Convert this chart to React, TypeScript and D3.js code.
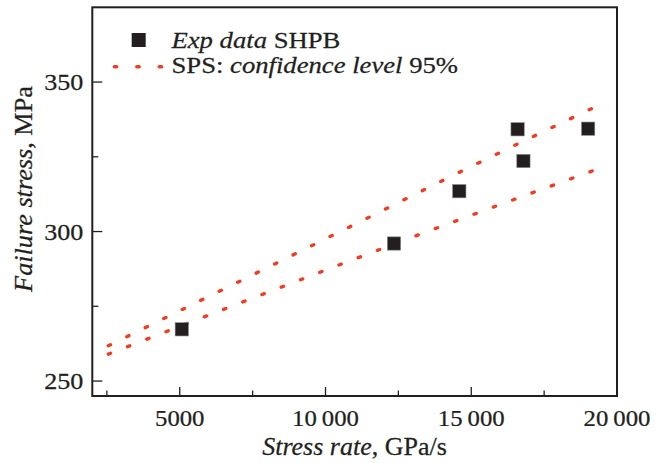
import { useEffect, useRef } from 'react';
import * as d3 from 'd3';

// experimental SHPB points
const stressRate = [5070, 12350, 14590, 16590, 16790, 19010];
const failureStress = [267.3, 296.0, 313.5, 334.2, 323.6, 334.4];

// SPS confidence band (95%), upper and lower limit
const upperRate = [2550, 11250, 14400, 19600];
const upperStress = [261.8, 303.6, 318.9, 343.3];
const lowerRate = [2550, 8000, 13000, 19500];
const lowerStress = [259.0, 279.6, 298.2, 321.5];

const xMajor = [5000, 10000, 15000, 20000];
const xMinor = [2500, 7500, 12500, 17500];
const yMajor = [250, 300, 350];
const yMinor = [275, 325];

const W = 664, H = 463;
const INK = '#231f20';
const RED = '#f03c22';
const FONT = '"Liberation Serif", "Times New Roman", serif';

export default function App() {
  const svgRef = useRef<SVGSVGElement>(null);

  useEffect(() => {
    document.body.style.margin = '0';
    const svg = d3.select(svgRef.current);
    svg.selectAll('*').remove();

    const x = d3.scaleLinear().domain([2000, 20000]).range([92.3, 617]);
    const y = d3.scaleLinear().domain([245, 375]).range([396, 7.3]);

    const g = svg.append('g');

    // confidence band lines
    const line = d3.line<[number, number]>()
      .x(d => x(d[0]))
      .y(d => y(d[1]))
      .curve(d3.curveMonotoneX);
    const bands = [
      d3.zip(upperRate, upperStress) as [number, number][],
      d3.zip(lowerRate, lowerStress) as [number, number][],
    ];
    bands.forEach(b => {
      g.append('path')
        .datum(b)
        .attr('d', line)
        .attr('fill', 'none')
        .attr('stroke', RED)
        .attr('stroke-width', 3.4)
        .attr('stroke-linecap', 'round')
        .attr('stroke-dasharray', '2.4 18.2');
    });

    // data squares
    const s = 13.3;
    stressRate.forEach((v, i) => {
      g.append('rect')
        .attr('x', x(v) - s / 2).attr('y', y(failureStress[i]) - s / 2)
        .attr('width', s).attr('height', s)
        .attr('fill', INK)
        .attr('stroke', '#8a8a8a').attr('stroke-width', 0.6);
    });

    // frame
    g.append('rect')
      .attr('x', x(2000)).attr('y', y(375))
      .attr('width', x(20000) - x(2000)).attr('height', y(245) - y(375))
      .attr('fill', 'none').attr('stroke', INK).attr('stroke-width', 2);

    // ticks (inward)
    xMajor.forEach(v => {
      g.append('line').attr('x1', x(v)).attr('x2', x(v))
        .attr('y1', y(245)).attr('y2', y(245) - 9)
        .attr('stroke', INK).attr('stroke-width', 1.3);
    });
    xMinor.forEach(v => {
      g.append('line').attr('x1', x(v)).attr('x2', x(v))
        .attr('y1', y(245)).attr('y2', y(245) - 5.5)
        .attr('stroke', INK).attr('stroke-width', 1.3);
    });
    yMajor.forEach(v => {
      g.append('line').attr('x1', x(2000)).attr('x2', x(2000) + 10)
        .attr('y1', y(v)).attr('y2', y(v))
        .attr('stroke', INK).attr('stroke-width', 1.3);
    });
    yMinor.forEach(v => {
      g.append('line').attr('x1', x(2000)).attr('x2', x(2000) + 6)
        .attr('y1', y(v)).attr('y2', y(v))
        .attr('stroke', INK).attr('stroke-width', 1.3);
    });

    const fmt = (v: number) => v >= 10000 ? d3.format(',')(v).replace(',', '\u2009') : String(v);

    // tick labels
    xMajor.forEach(v => {
      g.append('text')
        .attr('transform', `translate(${x(v)},425.5) scale(1.1,1)`)
        .attr('text-anchor', 'middle')
        .attr('font-family', FONT).attr('font-size', 22.5).attr('fill', INK)
        .attr('stroke', INK).attr('stroke-width', 0.25)
        .text(fmt(v));
    });
    yMajor.forEach(v => {
      g.append('text')
        .attr('transform', `translate(83.3,${y(v) + 8})scale(1.16,1)`)
        .attr('text-anchor', 'end')
        .attr('font-family', FONT).attr('font-size', 22.5).attr('fill', INK)
        .attr('stroke', INK).attr('stroke-width', 0.25)
        .text(fmt(v));
    });

    // axis titles
    const xt = g.append('text')
      .attr('transform', 'translate(354.5,455) scale(1.04,1)')
      .attr('text-anchor', 'middle')
      .attr('font-family', FONT).attr('font-size', 25).attr('fill', INK)
      .attr('stroke', INK).attr('stroke-width', 0.25);
    xt.append('tspan').attr('font-style', 'italic').text('Stress rate');
    xt.append('tspan').text(', GPa/s');

    const yt = g.append('text')
      .attr('transform', 'translate(31.5,189) rotate(-90) scale(1.05,1)')
      .attr('text-anchor', 'middle')
      .attr('font-family', FONT).attr('font-size', 25).attr('fill', INK)
      .attr('stroke', INK).attr('stroke-width', 0.25);
    yt.append('tspan').attr('font-style', 'italic').text('Failure stress');
    yt.append('tspan').text(', MPa');

    // legend
    g.append('rect')
      .attr('x', 138.7 - 7).attr('y', 40 - 7)
      .attr('width', 14).attr('height', 14)
      .attr('fill', INK);
    const l1 = g.append('text')
      .attr('transform', 'translate(171.5,48.3) scale(1.16,1)')
      .attr('font-family', FONT).attr('font-size', 23).attr('fill', INK)
      .attr('stroke', INK).attr('stroke-width', 0.25);
    l1.append('tspan').attr('font-style', 'italic').text('Exp data');
    l1.append('tspan').text(' SHPB');

    g.append('line')
      .attr('x1', 114.4).attr('x2', 163).attr('y1', 66.7).attr('y2', 66.7)
      .attr('stroke', RED).attr('stroke-width', 3.4)
      .attr('stroke-linecap', 'round').attr('stroke-dasharray', '2.4 20');
    const l2 = g.append('text')
      .attr('transform', 'translate(171.5,73) scale(1.16,1)')
      .attr('font-family', FONT).attr('font-size', 23).attr('fill', INK)
      .attr('stroke', INK).attr('stroke-width', 0.25);
    l2.append('tspan').text('SPS: ');
    l2.append('tspan').attr('font-style', 'italic').text('confidence level');
    l2.append('tspan').text(' 95%');
  }, []);

  return (
    <svg
      ref={svgRef}
      width={W}
      height={H}
      viewBox={`0 0 ${W} ${H}`}
      style={{ display: 'block', position: 'absolute', left: 0, top: 0, background: '#fff' }}
    />
  );
}
